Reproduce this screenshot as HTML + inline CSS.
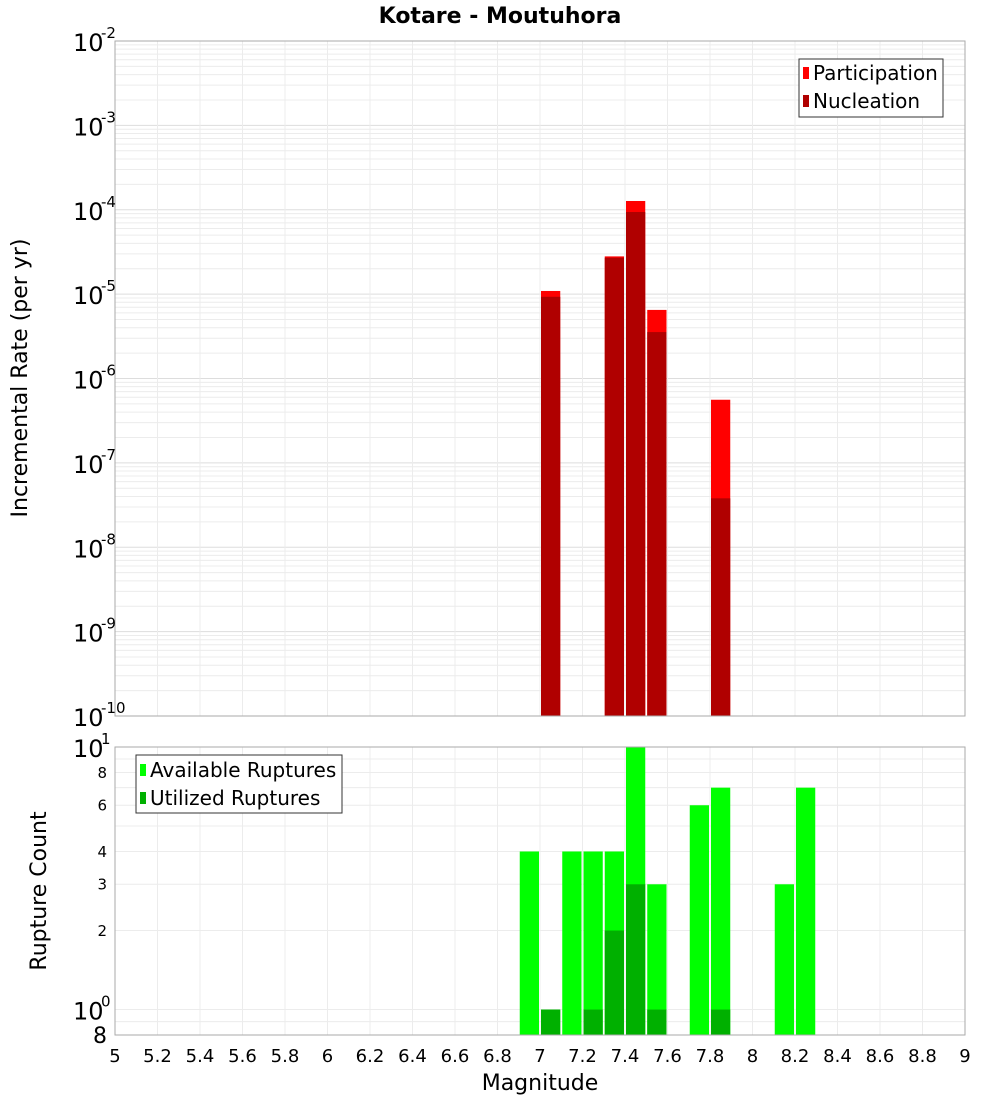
<!DOCTYPE html>
<html><head><meta charset="utf-8"><style>
body{margin:0;background:#fff;font-family:"DejaVu Sans","Liberation Sans",sans-serif}
svg text{font-family:"DejaVu Sans","Liberation Sans",sans-serif}
</style></head><body>
<svg id="c" width="1000" height="1100" xmlns="http://www.w3.org/2000/svg">
<text x="500" y="23" text-anchor="middle" font-size="22" font-weight="bold">Kotare - Moutuhora</text>
<g id="gtop"></g>
<g id="gbot"></g>
<text transform="translate(27,378) rotate(-90)" text-anchor="middle" font-size="22">Incremental Rate (per yr)</text>
<text transform="translate(46,891) rotate(-90)" text-anchor="middle" font-size="22">Rupture Count</text>
<text x="540" y="1090" text-anchor="middle" font-size="22">Magnitude</text>
<g>
<rect x="799" y="59" width="144" height="58" fill="#fff" stroke="#333"/>
<rect x="803" y="67" width="6" height="12" fill="#ff0000"/>
<text x="813" y="80" font-size="20">Participation</text>
<rect x="803" y="95" width="6" height="12" fill="#b00000"/>
<text x="813" y="108" font-size="20">Nucleation</text>
</g>
<g>
<rect x="136" y="755" width="206" height="58" fill="#fff" stroke="#333"/>
<rect x="140" y="764" width="6" height="12" fill="#00ff00"/>
<text x="150" y="777" font-size="20">Available Ruptures</text>
<rect x="140" y="792" width="6" height="12" fill="#00b000"/>
<text x="150" y="805" font-size="20">Utilized Ruptures</text>
</g>
</svg>
<script>
const rateMags=[7.05,7.35,7.45,7.55,7.85];
const participation=[1.09e-5,2.8e-5,1.27e-4,6.5e-6,5.6e-7];
const nucleation=[9.3e-6,2.7e-5,9.4e-5,3.55e-6,3.8e-8];
const countMags=[6.95,7.05,7.15,7.25,7.35,7.45,7.55,7.75,7.85,8.15,8.25];
const available=[4,1,4,4,4,10,3,6,7,3,7];
const utilized=[0,1,0,1,2,3,1,0,1,0,0];
const xTicks=[5,5.2,5.4,5.6,5.8,6,6.2,6.4,6.6,6.8,7,7.2,7.4,7.6,7.8,8,8.2,8.4,8.6,8.8,9];
const NS="http://www.w3.org/2000/svg";
const X0=115,X1=965;
const xs=m=>X0+(m-5)/4*(X1-X0);
const T0=41,T1=716, yTop=v=>T0+(-2-Math.log10(v))/8*(T1-T0);
const B0=747,B1=1035, bMax=1, bMin=Math.log10(0.8), yBot=v=>B0+(bMax-Math.log10(v))/(bMax-bMin)*(B1-B0);
function mk(p,t,a){const e=document.createElementNS(NS,t);for(const k in a)e.setAttribute(k,a[k]);p.appendChild(e);return e;}
const gTop=document.getElementById('gtop'),gBot=document.getElementById('gbot');
for(let d=-10;d<-2;d++)for(let k=1;k<10;k++){const y=yTop(k*Math.pow(10,d));
 const l=mk(gTop,'line',{x1:X0,x2:X1,y1:y,y2:y,stroke:k==1?'#ddd':'#ececec','stroke-width':1});
 
 }
for(const t of xTicks){for(const [g,a,b] of [[gTop,T0,T1],[gBot,B0,B1]]){const l=mk(g,'line',{x1:xs(t),x2:xs(t),y1:a,y2:b,stroke:'#ececec'});
 
 }}
for(const v of [0.8,0.9,1,2,3,4,5,6,7,8,9,10]){const l=mk(gBot,'line',{x1:X0,x2:X1,y1:yBot(v),y2:yBot(v),stroke:'#ececec'});
 
 }
const bw=(X1-X0)/40;
rateMags.forEach((m,i)=>{
 const r=mk(gTop,'rect',{x:xs(m)-bw/2+1,width:bw-2,y:yTop(participation[i]),height:T1-yTop(participation[i]),fill:'#ff0000'});
 
 
 const n=mk(gTop,'rect',{x:xs(m)-bw/2+1,width:bw-2,y:yTop(nucleation[i]),height:T1-yTop(nucleation[i]),fill:'#b00000'});
 
 
});
countMags.forEach((m,i)=>{
 const r=mk(gBot,'rect',{x:xs(m)-bw/2+1,width:bw-2,y:yBot(available[i]),height:B1-yBot(available[i]),fill:'#00ff00'});
 
 
 if(utilized[i]>0){const n=mk(gBot,'rect',{x:xs(m)-bw/2+1,width:bw-2,y:yBot(utilized[i]),height:B1-yBot(utilized[i]),fill:'#00b000'});
 
 }
});
mk(gTop,'rect',{x:X0,y:T0,width:X1-X0,height:T1-T0,fill:'none',stroke:'#aaa'});
mk(gBot,'rect',{x:X0,y:B0,width:X1-X0,height:B1-B0,fill:'none',stroke:'#aaa'});
for(let d=-10;d<=-2;d++){const y=yTop(Math.pow(10,d));
 const t=mk(gTop,'text',{x:73,y:y+10,'font-size':24});t.textContent='10';
 
 
 const s=mk(gTop,'text',{x:101,y:y-3,'font-size':15});s.textContent=String(d);
 
 }
[[10,'10','1'],[1,'10','0']].forEach(([v,b,e])=>{const y=yBot(v);
 const t=mk(gBot,'text',{x:73,y:y+10,'font-size':24});t.textContent=b;
 
 
 const s=mk(gBot,'text',{x:101,y:y-3,'font-size':15});s.textContent=e;
 
 });
[[8,'8',15],[6,'6',15],[4,'4',15],[3,'3',15],[2,'2',15],[0.8,'8',22]].forEach(([v,l,f])=>{
 const t=mk(gBot,'text',{x:107,y:yBot(v)+f/2.8,'font-size':f,'text-anchor':'end'});t.textContent=l;
 
 });
xTicks.forEach(t=>{const e=mk(gBot,'text',{x:xs(t),y:1062,'font-size':18,'text-anchor':'middle'});e.textContent=String(t);
 
 });
</script>
</body></html>
